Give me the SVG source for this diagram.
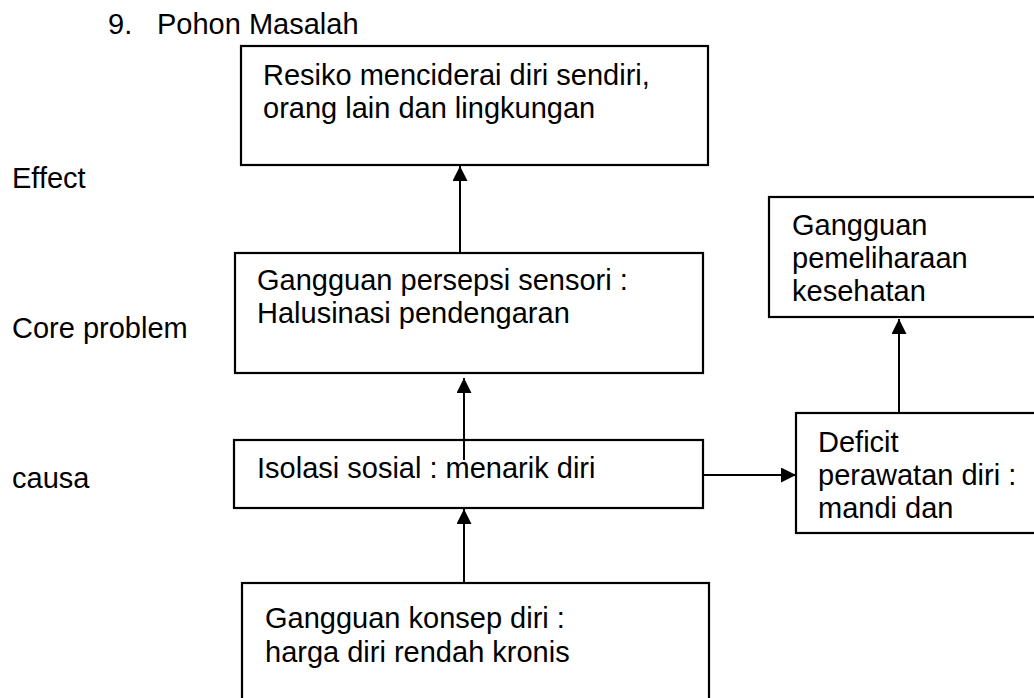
<svg xmlns="http://www.w3.org/2000/svg" width="1034" height="698" viewBox="0 0 1034 698">
<style>
text{font-family:"Liberation Sans",Arial,sans-serif;font-size:29px;fill:#000}
.box{fill:#fff;stroke:#000;stroke-width:2.2}
.con{stroke:#000;stroke-width:2;fill:none}
</style>
<defs>
<marker id="ah" markerUnits="userSpaceOnUse" markerWidth="16" markerHeight="16" refX="15" refY="7.5" orient="auto">
<path d="M0,0 L15,7.5 L0,15 Z" fill="#000"/>
</marker>
</defs>
<rect width="1034" height="698" fill="#fff"/>
<g id="title"><text x="108" y="34">9.</text><text x="157" y="34">Pohon Masalah</text></g>
<g id="labels">
<text x="12" y="188">Effect</text>
<text x="12" y="338">Core problem</text>
<text x="12" y="488">causa</text>
</g>
<g id="n1"><rect class="box" x="241" y="46" width="467" height="119"/>
<text x="263" y="85">Resiko menciderai diri sendiri,</text><text x="263" y="118">orang lain dan lingkungan</text></g>
<g id="n2"><rect class="box" x="235" y="253" width="468" height="120"/>
<text x="257" y="290">Gangguan persepsi sensori :</text><text x="257" y="323">Halusinasi pendengaran</text></g>
<g id="n3"><rect class="box" x="234" y="440" width="469" height="68"/>
<text x="257" y="478">Isolasi sosial : menarik diri</text></g>
<g id="n4"><rect class="box" x="242" y="583" width="467" height="130"/>
<text x="265" y="628">Gangguan konsep diri :</text><text x="265" y="662">harga diri rendah kronis</text></g>
<g id="n5"><rect class="box" x="796" y="413" width="250" height="120"/>
<text x="818" y="452">Deficit</text><text x="818" y="485">perawatan diri :</text><text x="818" y="518">mandi dan</text></g>
<g id="n6"><rect class="box" x="769" y="197" width="280" height="120"/>
<text x="792" y="235">Gangguan</text><text x="792" y="268">pemeliharaan</text><text x="792" y="301">kesehatan</text></g>
<g id="connectors">
<line class="con" x1="460" y1="253" x2="460" y2="166" marker-end="url(#ah)"/>
<line class="con" x1="464" y1="460" x2="464" y2="378" marker-end="url(#ah)"/>
<line class="con" x1="464" y1="583" x2="464" y2="509" marker-end="url(#ah)"/>
<line class="con" x1="703" y1="475" x2="796" y2="475" marker-end="url(#ah)"/>
<line class="con" x1="899" y1="413" x2="899" y2="319" marker-end="url(#ah)"/>
</g>
</svg>
